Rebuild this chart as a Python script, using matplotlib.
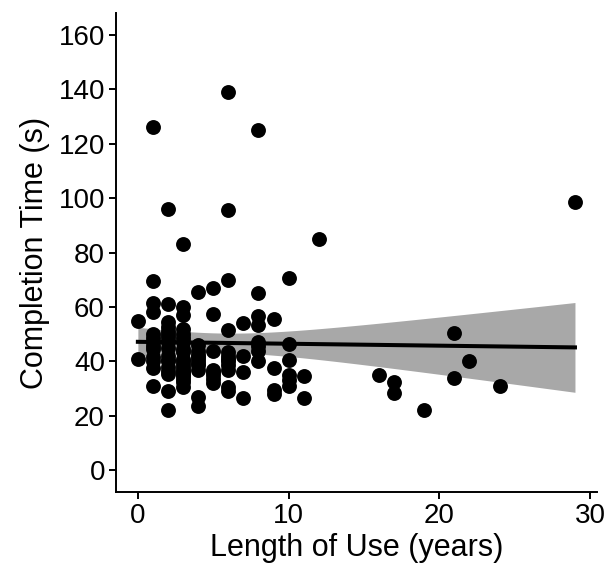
import numpy as np
from matplotlib import pyplot as plt

# data, grouped by length of use (years)
years = [0, 1, 2, 3, 4, 5, 6, 7, 8, 9, 10, 11, 12, 16, 17, 19, 21, 22, 24, 29]
times = [
    [55, 41],
    [126, 69.5, 61.5, 58, 50, 48.5, 47, 45.5, 44.5, 41.5, 40, 37.5, 31],
    [96, 61, 54.5, 52.5, 51, 50, 49, 47.5, 47, 45, 42, 40.5, 40, 38, 36.5, 35.5, 29, 22],
    [83, 60, 57, 52, 50, 48.5, 47, 44.5, 43.5, 41, 40, 39, 38, 37, 36, 35.5, 34.5,
     33.5, 32.5, 30.5],
    [65.5, 46, 44, 42.5, 41.5, 40.5, 39.5, 38.5, 37, 27, 23.5],
    [67, 57.5, 44, 37, 36, 35, 33.5, 32],
    [139, 95.5, 70, 51.5, 43.5, 42, 41, 40, 38.5, 37, 30.5, 29],
    [54, 42, 36, 26.5],
    [125, 65, 56.5, 53.5, 47, 45.5, 44, 40],
    [55.5, 37.5, 29.5, 28],
    [70.5, 46.5, 40.5, 35, 33, 31],
    [34.5, 26.5],
    [85],
    [35],
    [32.5, 28.5],
    [22],
    [50.5, 34],
    [40],
    [31],
    [98.5],
]

x = np.array([yr for yr, col in zip(years, times) for _ in col], dtype=float)
y = np.array([v for col in times for v in col], dtype=float)

# linear fit + 95% confidence band (like geom_smooth(method="lm"))
n = len(x)
slope, intercept = np.polyfit(x, y, 1)
resid = y - (intercept + slope * x)
s = np.sqrt(np.sum(resid ** 2) / (n - 2))
sxx = np.sum((x - x.mean()) ** 2)
xs = np.linspace(x.min(), x.max(), 100)
ys = intercept + slope * xs
se = s * np.sqrt(1 / n + (xs - x.mean()) ** 2 / sxx)
tval = 1.98

plt.rcParams['font.family'] = ['Liberation Sans', 'DejaVu Sans']

fig = plt.figure(figsize=(6.09, 5.69), dpi=100)
ax = fig.add_axes([0.1905, 0.1353, 0.7895, 0.8417])

ax.fill_between(xs, ys - tval * se, ys + tval * se, color='#a8a8a8', lw=0, zorder=1)
ax.plot(xs, ys, color='black', lw=2.9, zorder=2)
ax.scatter(x, y, s=115, color='black', lw=0, zorder=3)

ax.set_xlim(-1.45, 30.45)
ax.set_ylim(-8, 168)
ax.set_xticks([0, 10, 20, 30])
ax.set_yticks(range(0, 161, 20))

for side in ['top', 'right']:
    ax.spines[side].set_visible(False)
for side in ['left', 'bottom']:
    ax.spines[side].set_linewidth(1.4)
ax.tick_params(width=1.4, length=5, labelsize=20, colors='black', pad=3)

ax.set_xlabel('Length of Use (years)', fontsize=22, labelpad=3)
ax.set_ylabel('Completion Time (s)', fontsize=22, labelpad=6)

fig.savefig('out.png', dpi=100)
